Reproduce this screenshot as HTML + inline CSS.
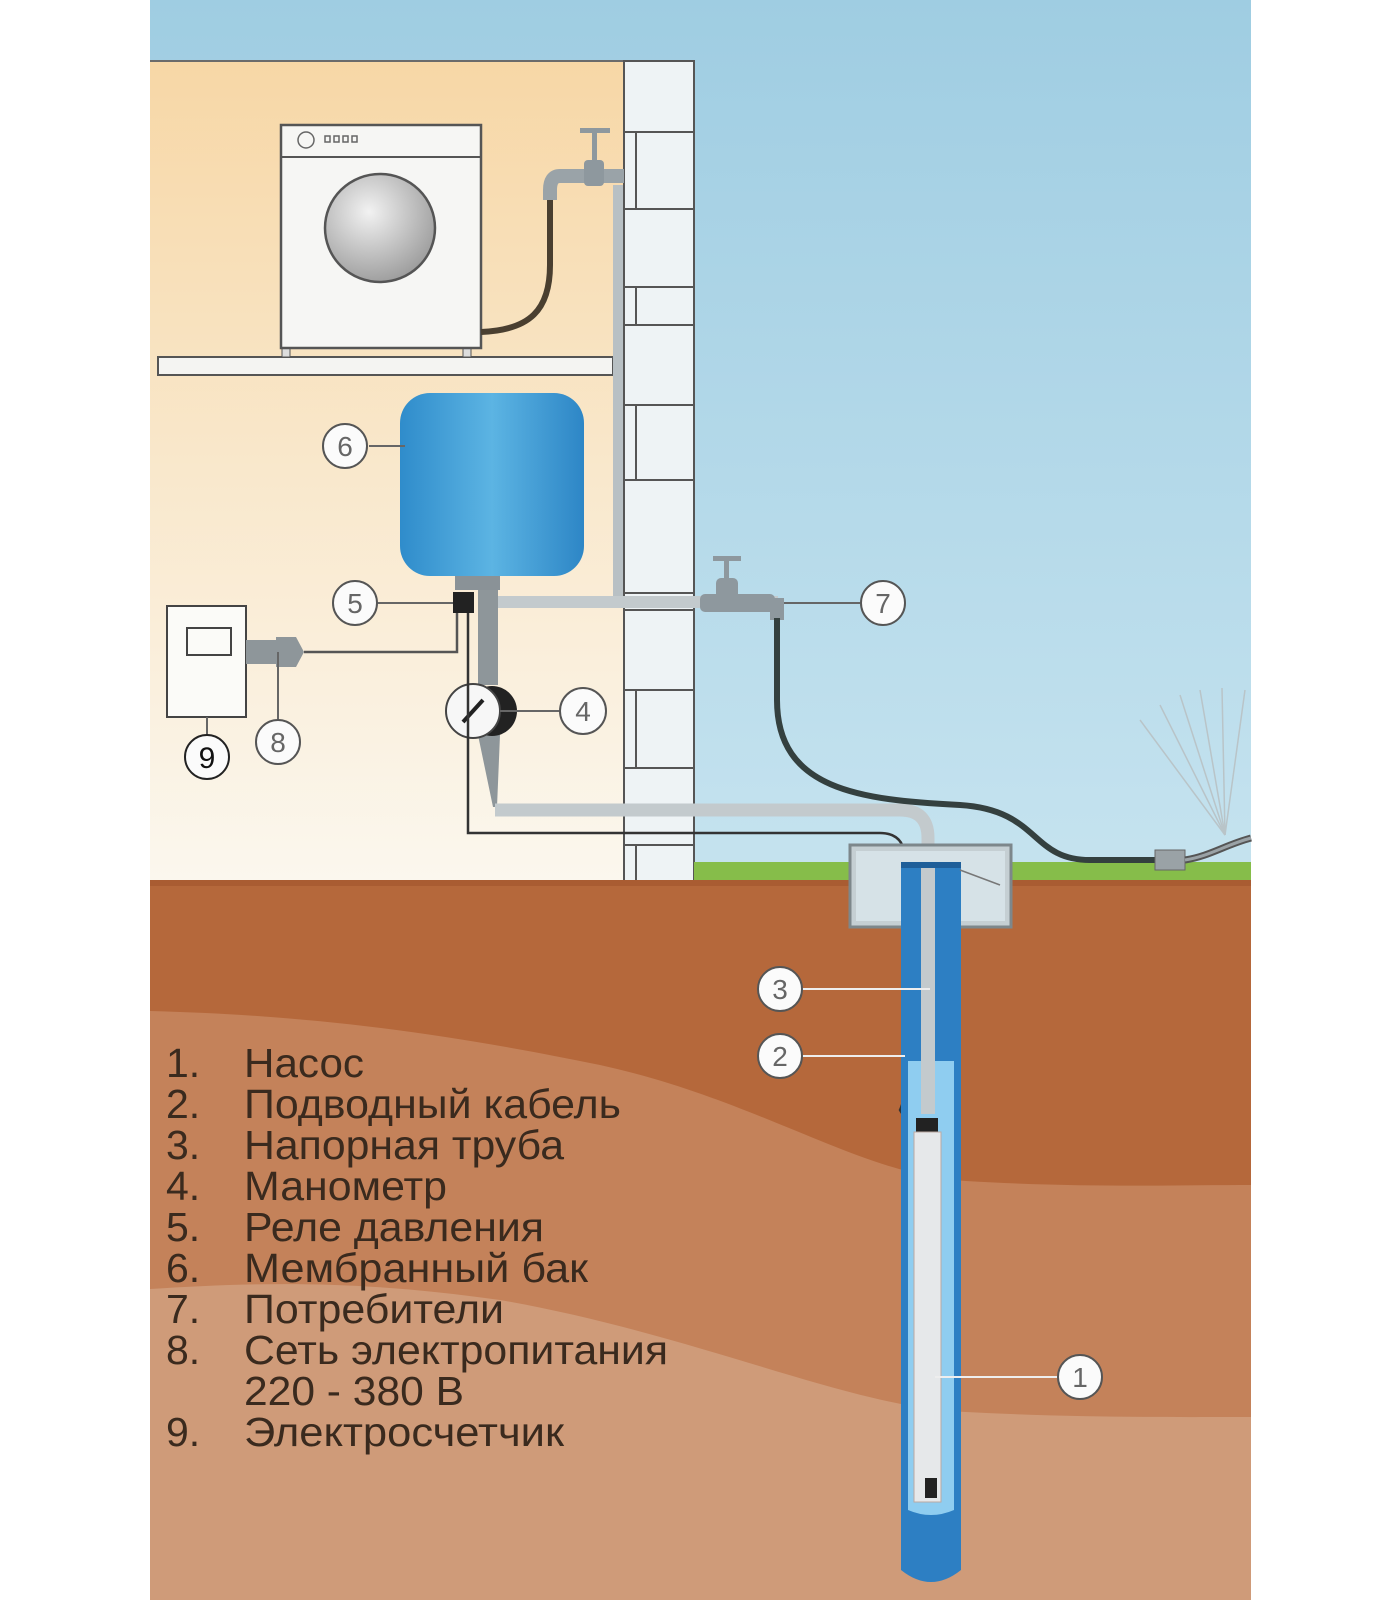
<!DOCTYPE html>
<html><head><meta charset="utf-8"><style>
html,body{margin:0;padding:0;background:#fff;}
svg{display:block;}
text{font-family:"Liberation Sans",sans-serif;}
</style></head><body>
<svg width="1400" height="1600" viewBox="0 0 1400 1600" xmlns="http://www.w3.org/2000/svg">
<defs>
<linearGradient id="sky" x1="0" y1="0" x2="0" y2="1">
<stop offset="0" stop-color="#9fcde2"/><stop offset="0.5" stop-color="#c2e1ee"/><stop offset="1" stop-color="#dff0f4"/></linearGradient>
<linearGradient id="wall" x1="0" y1="0" x2="0" y2="1">
<stop offset="0" stop-color="#f7d7a6"/><stop offset="0.5" stop-color="#f9e8cc"/><stop offset="1" stop-color="#fbf7ee"/></linearGradient>
<linearGradient id="tank" x1="0" y1="0" x2="1" y2="0">
<stop offset="0" stop-color="#2f8ccb"/><stop offset="0.5" stop-color="#5cb4e3"/><stop offset="1" stop-color="#2d86c6"/></linearGradient>
<radialGradient id="port" cx="0.4" cy="0.35" r="0.7">
<stop offset="0" stop-color="#f2f2f2"/><stop offset="1" stop-color="#9a9a9a"/></radialGradient>
</defs>
<rect x="150" y="0" width="1101" height="1600" fill="url(#sky)"/>
<rect x="150" y="61" width="474" height="820" fill="url(#wall)"/>
<line x1="150" y1="61" x2="694" y2="61" stroke="#6b6b6b" stroke-width="2"/>
<rect x="624" y="61" width="70" height="820" fill="#eef3f5" stroke="#555" stroke-width="2"/>
<g stroke="#555" stroke-width="2">
<line x1="624" y1="132" x2="694" y2="132"/><line x1="636" y1="132" x2="636" y2="209"/>
<line x1="624" y1="209" x2="694" y2="209"/><line x1="624" y1="287" x2="694" y2="287"/>
<line x1="636" y1="287" x2="636" y2="325"/><line x1="624" y1="325" x2="694" y2="325"/>
<line x1="624" y1="405" x2="694" y2="405"/><line x1="636" y1="405" x2="636" y2="480"/>
<line x1="624" y1="480" x2="694" y2="480"/><line x1="624" y1="593" x2="694" y2="593"/>
<line x1="624" y1="610" x2="694" y2="610"/><line x1="624" y1="690" x2="694" y2="690"/>
<line x1="636" y1="690" x2="636" y2="768"/><line x1="624" y1="768" x2="694" y2="768"/>
<line x1="624" y1="845" x2="694" y2="845"/><line x1="636" y1="845" x2="636" y2="881"/>
</g>
<rect x="694" y="862" width="557" height="20" fill="#86bd4a"/>
<rect x="150" y="880" width="1101" height="720" fill="#cf9b79"/>
<path d="M150,1289 C260,1282 360,1280 500,1300 C700,1335 850,1408 966,1412 C1080,1418 1180,1417 1251,1417 L1251,880 L150,880 Z" fill="#c4825a"/>
<path d="M150,1011 C300,1015 430,1030 600,1065 C760,1100 860,1175 966,1181 C1080,1188 1180,1185 1251,1185 L1251,880 L150,880 Z" fill="#b5683b"/>
<rect x="150" y="880" width="1101" height="6" fill="#a95c32"/>
<rect x="158" y="357" width="455" height="18" fill="#f4f4f2" stroke="#555" stroke-width="2"/>
<rect x="282" y="348" width="8" height="9" fill="#ddd" stroke="#555"/>
<rect x="463" y="348" width="8" height="9" fill="#ddd" stroke="#555"/>
<rect x="281" y="125" width="200" height="223" fill="#f6f6f4" stroke="#555" stroke-width="2.5"/>
<line x1="281" y1="157" x2="481" y2="157" stroke="#555" stroke-width="2"/>
<circle cx="306" cy="140" r="8" fill="none" stroke="#666" stroke-width="1.5"/>
<g fill="none" stroke="#666" stroke-width="1.5"><rect x="325" y="136" width="5" height="6"/><rect x="334" y="136" width="5" height="6"/><rect x="343" y="136" width="5" height="6"/><rect x="352" y="136" width="5" height="6"/></g>
<ellipse cx="380" cy="228" rx="55" ry="54" fill="url(#port)" stroke="#555" stroke-width="2.5"/>
<path d="M481,332 C530,330 550,310 550,265 L550,190" fill="none" stroke="#4a3f30" stroke-width="6"/>
<path d="M624,176 L560,176 Q550,176 550,190 L550,200" fill="none" stroke="#9aa3a8" stroke-width="14"/>
<rect x="584" y="160" width="20" height="26" rx="4" fill="#8e989e"/>
<rect x="592" y="133" width="5" height="28" fill="#8e989e"/>
<rect x="580" y="128" width="30" height="5" fill="#8e989e"/>
<rect x="613" y="185" width="10" height="420" fill="#b8c0c4"/>
<rect x="400" y="393" width="184" height="183" rx="30" fill="url(#tank)"/>
<rect x="455" y="576" width="45" height="14" fill="#8a9297"/>
<rect x="478" y="596" width="300" height="12" fill="#c3cacd"/>
<rect x="478" y="590" width="20" height="95" fill="#8e969a"/>
<polygon points="478,735 500,735 497,807 493,807" fill="#8e969a"/>
<rect x="453" y="592" width="21" height="21" fill="#222"/>
<circle cx="492" cy="711" r="25" fill="#222"/>
<circle cx="473" cy="711" r="27" fill="#f7f7f7" stroke="#444" stroke-width="2"/>
<line x1="463" y1="722" x2="483" y2="700" stroke="#222" stroke-width="4"/>
<path d="M495,810 L900,810 Q928,810 928,838 L928,1113" fill="none" stroke="#c3cacd" stroke-width="13"/>
<path d="M468,613 L468,833 L880,833 Q905,833 905,860 L905,1080 Q905,1100 900,1110 Q905,1120 918,1120" fill="none" stroke="#333" stroke-width="2.5"/>
<rect x="167" y="606" width="79" height="111" fill="#fbfbf8" stroke="#444" stroke-width="2"/>
<rect x="187" y="628" width="44" height="27" fill="none" stroke="#444" stroke-width="2"/>
<rect x="246" y="640" width="30" height="24" fill="#8e969a"/>
<polygon points="276,637 296,637 304,652 296,667 276,667" fill="#8e969a"/>
<path d="M304,652 L457,652 L457,613" fill="none" stroke="#555" stroke-width="2.5"/>
<rect x="700" y="594" width="75" height="18" rx="5" fill="#8e989e"/>
<rect x="716" y="578" width="22" height="34" rx="5" fill="#8e989e"/>
<rect x="724" y="560" width="5" height="20" fill="#8e989e"/>
<rect x="713" y="556" width="28" height="5" fill="#8e989e"/>
<rect x="770" y="598" width="14" height="22" fill="#8e989e"/>
<path d="M777,618 L777,700 C777,790 860,800 960,805 C1040,810 1030,860 1090,860 L1160,860" fill="none" stroke="#34403f" stroke-width="6"/>
<rect x="1155" y="850" width="30" height="20" fill="#9aa2a6" stroke="#666"/>
<path d="M1185,860 C1210,856 1225,845 1251,838" fill="none" stroke="#555" stroke-width="7"/>
<path d="M1185,860 C1210,856 1225,845 1251,838" fill="none" stroke="#9aa2a6" stroke-width="3"/>
<g stroke="#b9c4c8" stroke-width="1.5">
<line x1="1225" y1="835" x2="1140" y2="720"/><line x1="1225" y1="835" x2="1160" y2="705"/>
<line x1="1225" y1="835" x2="1180" y2="695"/><line x1="1225" y1="835" x2="1200" y2="690"/>
<line x1="1225" y1="835" x2="1222" y2="688"/><line x1="1225" y1="835" x2="1245" y2="690"/>
</g>
<rect x="850" y="845" width="161" height="82" fill="#c5cfd3" stroke="#7d878b" stroke-width="3"/>
<rect x="856" y="851" width="149" height="70" fill="#d6e2e7"/>
<path d="M901,862 L961,862 L961,1570 Q931,1594 901,1570 Z" fill="#2d7fc3"/>
<path d="M908,1061 L954,1061 L954,1510 Q931,1520 908,1510 Z" fill="#8fcdf0"/>
<rect x="921" y="862" width="14" height="252" fill="#c3cacd"/>
<path d="M901,862 L961,862 L961,868 L901,868Z" fill="#1f5f99"/>
<rect x="916" y="1118" width="22" height="14" fill="#222"/>
<rect x="914" y="1132" width="27" height="370" fill="#e6e8ea" stroke="#b9a9a3" stroke-width="1"/>
<rect x="925" y="1478" width="12" height="20" fill="#222"/>
<path d="M960,870 L1000,885" stroke="#777" stroke-width="1.5"/>
<g stroke="#666" stroke-width="2">
<line x1="369" y1="446" x2="405" y2="446"/>
<line x1="377" y1="603" x2="453" y2="603"/>
<line x1="500" y1="711" x2="560" y2="711"/>
<line x1="784" y1="603" x2="860" y2="603"/>
<line x1="278" y1="652" x2="278" y2="720"/>
<line x1="207" y1="717" x2="207" y2="737"/>
</g>
<g stroke="#eee" stroke-width="2">
<line x1="802" y1="989" x2="930" y2="989"/>
<line x1="802" y1="1056" x2="905" y2="1056"/>
<line x1="935" y1="1377" x2="1058" y2="1377"/>
</g>
<g fill="#fbfbfb" stroke="#555" stroke-width="2">
<circle cx="345" cy="446" r="22"/><circle cx="355" cy="603" r="22"/><circle cx="583" cy="711" r="23"/>
<circle cx="883" cy="603" r="22"/><circle cx="278" cy="742" r="22"/><circle cx="207" cy="757" r="22" stroke="#222"/>
<circle cx="780" cy="989" r="22"/><circle cx="780" cy="1056" r="22"/><circle cx="1080" cy="1377" r="22"/>
</g>
<g font-size="28" fill="#666" text-anchor="middle">
<text x="345" y="456">6</text><text x="355" y="613">5</text><text x="583" y="721">4</text>
<text x="883" y="613">7</text><text x="278" y="752">8</text><text x="207" y="768" fill="#111" font-size="30">9</text>
<text x="780" y="999">3</text><text x="780" y="1066">2</text><text x="1080" y="1387">1</text>
</g>
<g font-size="41" fill="#3a2a1e">
<text x="166" y="1077">1.</text><text x="244" y="1077" textLength="120" lengthAdjust="spacingAndGlyphs">Насос</text>
<text x="166" y="1118">2.</text><text x="244" y="1118" textLength="377" lengthAdjust="spacingAndGlyphs">Подводный кабель</text>
<text x="166" y="1159">3.</text><text x="244" y="1159" textLength="320" lengthAdjust="spacingAndGlyphs">Напорная труба</text>
<text x="166" y="1200">4.</text><text x="244" y="1200" textLength="203" lengthAdjust="spacingAndGlyphs">Манометр</text>
<text x="166" y="1241">5.</text><text x="244" y="1241" textLength="300" lengthAdjust="spacingAndGlyphs">Реле давления</text>
<text x="166" y="1282">6.</text><text x="244" y="1282" textLength="344" lengthAdjust="spacingAndGlyphs">Мембранный бак</text>
<text x="166" y="1323">7.</text><text x="244" y="1323" textLength="260" lengthAdjust="spacingAndGlyphs">Потребители</text>
<text x="166" y="1364">8.</text><text x="244" y="1364" textLength="424" lengthAdjust="spacingAndGlyphs">Сеть электропитания</text>
<text x="244" y="1405" textLength="220" lengthAdjust="spacingAndGlyphs">220 - 380 В</text>
<text x="166" y="1446">9.</text><text x="244" y="1446" textLength="320" lengthAdjust="spacingAndGlyphs">Электросчетчик</text>
</g>
</svg>
</body></html>
